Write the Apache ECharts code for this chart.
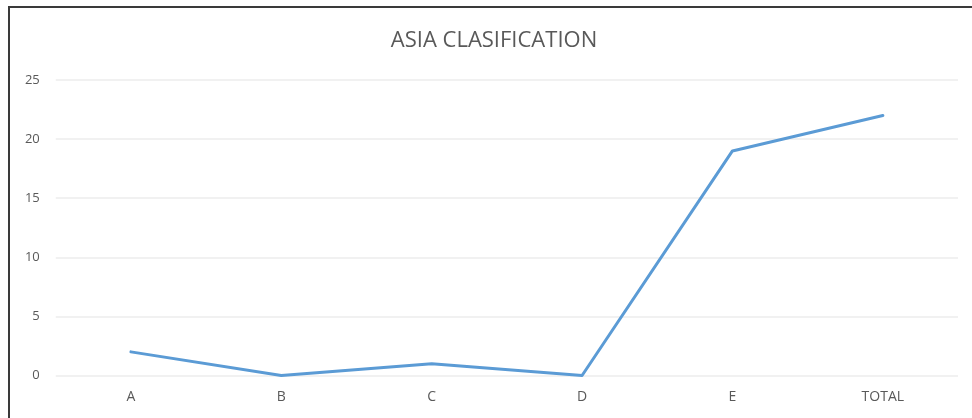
<!DOCTYPE html>
<html>
<head>
<meta charset="utf-8">
<script src="https://cdn.jsdelivr.net/npm/echarts@6/dist/echarts.min.js"></script>
<style>
  html, body { margin: 0; padding: 0; background: #fff; }
  #frame { position: absolute; left: 8px; top: 6px; width: 972px; height: 420px;
           border-left: 2px solid #3a3a3a; border-top: 2px solid #3a3a3a; box-sizing: border-box; }
  #chart { position: absolute; left: 0; top: 0; width: 972px; height: 418px; }
</style>
</head>
<body>
<div id="chart"></div>
<div id="frame"></div>
<script>
// Asia classification counts by group
const categories = ['A', 'B', 'C', 'D', 'E', 'TOTAL'];
const counts = [2, 0, 1, 0, 19, 22];
const yTicks = { min: 0, max: 25, interval: 5 };

const chart = echarts.init(document.getElementById('chart'), null, { renderer: 'canvas' });
chart.setOption({
  animation: false,
  title: {
    text: 'ASIA CLASIFICATION',
    left: 489,
    top: 25,
    textAlign: 'center',
    textStyle: { fontFamily: 'Open Sans', fontSize: 22, fontWeight: 'normal', color: '#595959' }
  },
  grid: { left: 55.75, right: 14, top: 80, bottom: 42.5, containLabel: false },
  xAxis: {
    type: 'category',
    data: categories,
    boundaryGap: true,
    axisLine: { show: false },
    axisTick: { show: false },
    axisLabel: { color: '#595959', fontFamily: 'Open Sans', fontSize: 14, margin: 15 }
  },
  yAxis: {
    type: 'value',
    min: yTicks.min,
    max: yTicks.max,
    interval: yTicks.interval,
    axisLine: { show: false },
    axisTick: { show: false },
    axisLabel: { color: '#595959', fontFamily: 'Open Sans', fontSize: 13, margin: 16 },
    splitLine: { lineStyle: { color: '#ececec', width: 1.5 } }
  },
  series: [{
    type: 'line',
    data: counts,
    symbol: 'none',
    lineStyle: { color: '#5b9bd5', width: 3, cap: 'round', join: 'round' }
  }]
});
</script>
</body>
</html>
